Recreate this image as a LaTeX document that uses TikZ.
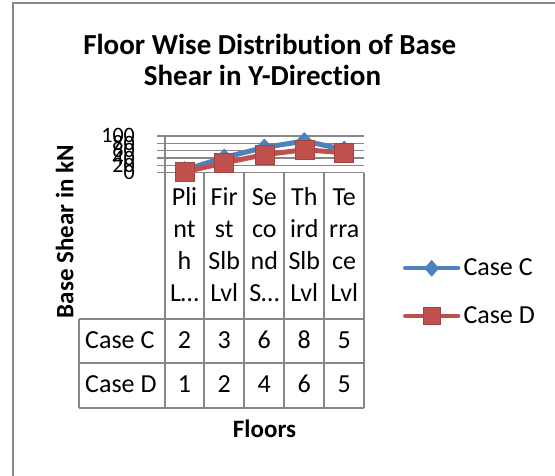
\documentclass[tikz,border=0pt]{standalone}
\usepackage{fontspec}
\setmainfont{Carlito}[Ligatures={NoCommon}]
\usetikzlibrary{shapes.geometric}
\definecolor{serC}{HTML}{4F81BD}
\definecolor{serD}{HTML}{C0504D}
\definecolor{gridc}{HTML}{878787}
\definecolor{framec}{HTML}{888888}
\begin{document}
\begin{tikzpicture}[x=1pt,y=-1pt,
  gridln/.style={draw=gridc, line width=1.4pt},
  tbl/.style={draw=gridc, line width=1.8pt},
  lineC/.style={draw=serC, line width=5pt},
  lineD/.style={draw=serD, line width=5pt},
  mkC/.style={diamond, fill=serC, inner sep=0pt, minimum width=17pt, minimum height=18pt},
  mkD/.style={rectangle, fill=serD, draw=serD!85!black, line width=0.6pt, inner sep=0pt, minimum size=19pt},
  tick/.style={font=\fontsize{22}{26}\selectfont, anchor=base east, inner sep=0pt},
  cell/.style={font=\fontsize{26}{31.9}\selectfont, anchor=base, inner sep=0pt},
  ttl/.style={font=\bfseries\fontsize{29}{34}\selectfont, anchor=base, inner sep=0pt},
  lbl/.style={font=\bfseries\fontsize{25}{30}\selectfont, anchor=base, inner sep=0pt},
]
\useasboundingbox (0,0) rectangle (555,476);
\fill[white] (0,0) rectangle (555,476);
\draw[framec, line width=2pt] (13,476) -- (13,3) -- (555,3);

% title
\node[ttl] (title1) at (269.7,55) {Floor Wise Distribution of Base};
\node[ttl] (title2) at (262.5,85.7) {Shear in Y-Direction};

% axis title
\node[lbl, rotate=90] (ylabel) at (73.3,231.7) {Base Shear in kN};
\node[lbl] (xlabel) at (264.5,437.3) {Floors};

% gridlines and tick labels
\foreach \v/\i in {0/0,20/1,40/2,60/3,80/4,100/5}{
  \draw[gridln] (157,{172.75-7.35*\i}) -- (364,{172.75-7.35*\i});
  \node[tick] (tick\i) at (135,{172.75-7.35*\i+7}) {\v};
}

% table
\draw[tbl] (165,136) -- (165,407.7);
\foreach \x in {204,244.3,284.3,324.3,364}{
  \draw[tbl] (\x,172.75) -- (\x,407.7);
}
\draw[tbl] (79,319) -- (79,407.7);
\foreach \y in {319,362.7,407.7}{
  \draw[tbl] (79,\y) -- (364,\y);
}

% category headers
\foreach \c/\a/\b/\cc/\d [count=\k] in {184.5/Pli/nt/h/L…, 224.2/Fir/st/Slb/Lvl, 264.3/Se/co/nd/S…, 304.3/Th/ird/Slb/Lvl, 344.2/Te/rra/ce/Lvl}{
  \node[cell] (h\k a) at (\c,206) {\a};
  \node[cell] (h\k b) at (\c,237.9) {\b};
  \node[cell] (h\k c) at (\c,269.8) {\cc};
  \node[cell] (h\k d) at (\c,301.7) {\d};
}

% data rows
\node[cell, anchor=base west] (rowC) at (85,348.3) {Case C};
\node[cell, anchor=base west] (rowD) at (85,392.3) {Case D};
\foreach \c/\vc/\vd [count=\k] in {184.5/2/1, 224.2/3/2, 264.3/6/4, 304.3/8/6, 344.2/5/5}{
  \node[cell] (c\k) at (\c,348.3) {\vc};
  \node[cell] (d\k) at (\c,392.3) {\vd};
}

% series points
\coordinate (pc1) at (184.5,170);
\coordinate (pc2) at (224.2,157.5);
\coordinate (pc3) at (264.3,147.5);
\coordinate (pc4) at (304.3,141);
\coordinate (pc5) at (344.2,149.5);
\coordinate (pd1) at (184.5,172);
\coordinate (pd2) at (224.2,162.8);
\coordinate (pd3) at (264.3,154.7);
\coordinate (pd4) at (304.3,149.7);
\coordinate (pd5) at (344.2,152.8);

\draw[lineC, line join=round] (pc1) -- (pc2) -- (pc3) -- (pc4) -- (pc5);
\foreach \k in {1,...,5}{ \node[mkC] (mc\k) at (pc\k) {}; }
\draw[lineD, line join=round] (pd1) -- (pd2) -- (pd3) -- (pd4) -- (pd5);
\foreach \k in {1,...,5}{ \node[mkD] (md\k) at (pd\k) {}; }

% legend
\coordinate (lc1) at (405,268.3);
\coordinate (lc2) at (458.3,268.3);
\coordinate (ld1) at (405,316);
\coordinate (ld2) at (458.3,316);
\draw[lineC, line width=4pt, line cap=round] (lc1) -- (lc2);
\node[mkC, minimum width=15pt, minimum height=17pt] (legC) at (431.7,268.3) {};
\draw[lineD, line width=4pt, line cap=round] (ld1) -- (ld2);
\node[mkD, minimum size=17pt] (legD) at (431.7,316) {};
\node[cell, anchor=base west] (legCtext) at (463.3,276) {Case C};
\node[cell, anchor=base west] (legDtext) at (463.3,323.3) {Case D};
\end{tikzpicture}
\end{document}
